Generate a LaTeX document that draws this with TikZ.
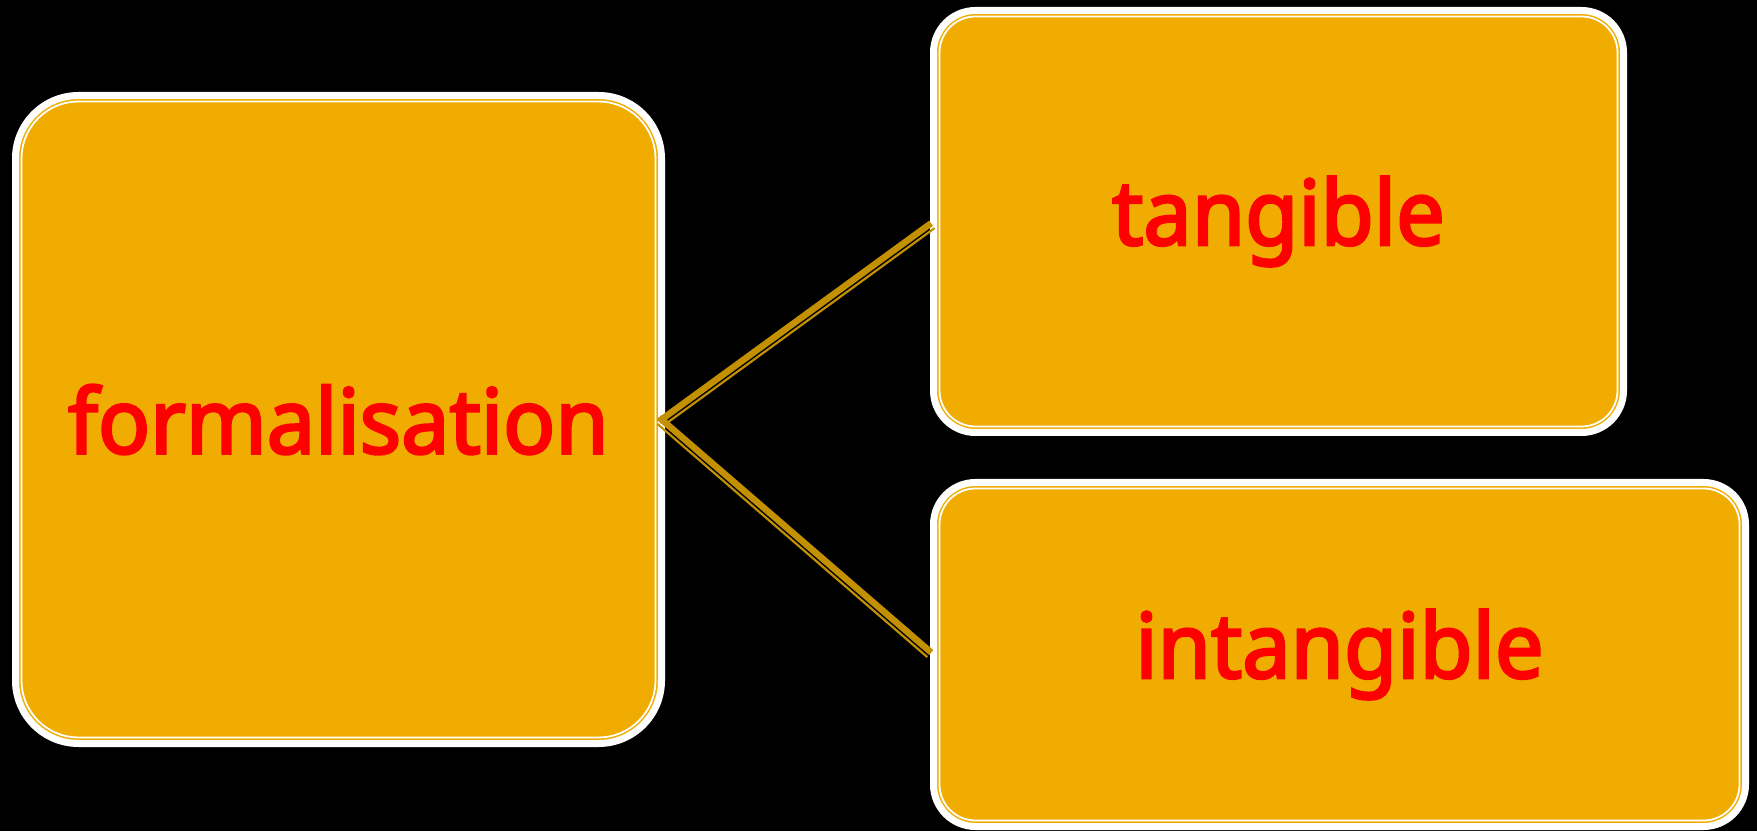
\documentclass[tikz,border=0pt]{standalone}
\usepackage{fontspec}
\usetikzlibrary{calc}
\newfontfamily\lblfont{Noto Sans}[FakeBold=3, FakeStretch=0.96]
\definecolor{boxfill}{HTML}{F0AC00}
\definecolor{lnk}{HTML}{C29000}
\definecolor{txt}{HTML}{FF0000}
\begin{document}
\begin{tikzpicture}[x=1pt,y=1pt,
  box/.style={rectangle, draw=white, line width=7pt, fill=boxfill, inner sep=0pt, outer sep=0pt,
    font=\lblfont\fontsize{90}{96}\selectfont, text=txt},
  innerline/.style={draw=white, line width=1.8pt},
  linkthick/.style={draw=lnk, line width=6.5pt, line join=miter},
  linkthin/.style={draw=lnk, line width=2.2pt}]
\fill[black] (0,0) rectangle (1757,831);
\useasboundingbox (0,0) rectangle (1757,831);
% boxes
\node[box, rounded corners=63pt, minimum width=646pt, minimum height=648pt] (f) at (338.5,411.5) {formalisation};
\node[box, rounded corners=42pt, minimum width=690pt, minimum height=422pt] (t) at (1278.5,609.5) {tangible};
\node[box, rounded corners=42pt, minimum width=812pt, minimum height=344pt] (i) at (1339.5,176.5) {intangible};
% inner thin borders
\draw[innerline, rounded corners=57pt] ($(f.south west)+(6,6)$) rectangle ($(f.north east)-(6,6)$);
\draw[innerline, rounded corners=36pt] ($(t.south west)+(6,6)$) rectangle ($(t.north east)-(6,6)$);
\draw[innerline, rounded corners=36pt] ($(i.south west)+(6,6)$) rectangle ($(i.north east)-(6,6)$);
% connectors
\draw[linkthick, shorten <=-3pt, shorten >=3pt] (f.east) -- (t.west);
\draw[linkthick, shorten <=-3pt, shorten >=3pt] (f.east) -- (i.west);
\draw[linkthin, shorten >=3pt] ($(f.east)!6pt!-90:(t.west)$) -- ($(t.west)!6pt!90:(f.east)$);
\draw[linkthin, shorten >=3pt] ($(f.east)!6pt!-90:(i.west)$) -- ($(i.west)!6pt!90:(f.east)$);
\end{tikzpicture}
\end{document}
